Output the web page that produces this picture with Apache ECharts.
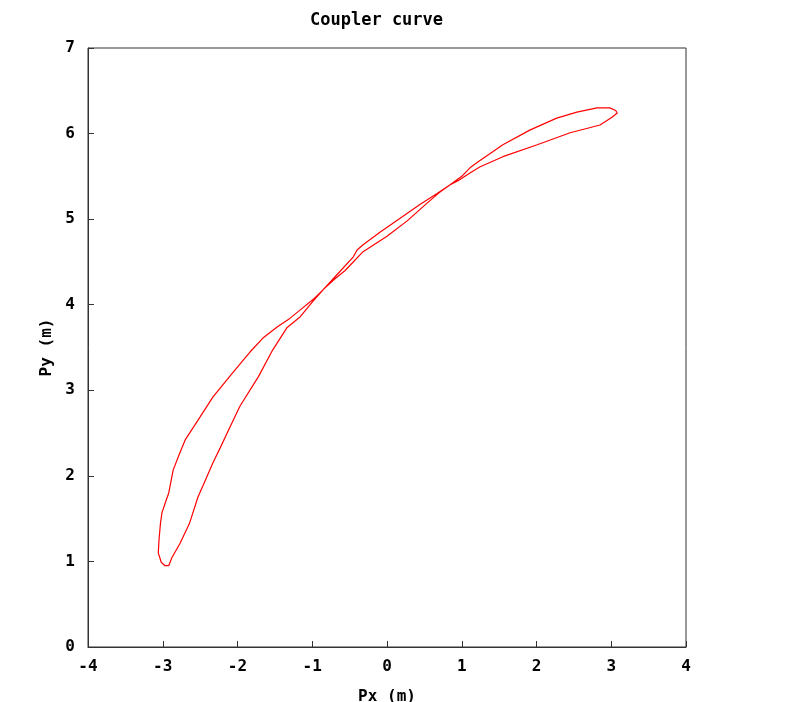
<!DOCTYPE html>
<html>
<head>
<meta charset="utf-8">
<script src="https://cdn.jsdelivr.net/npm/echarts@6/dist/echarts.min.js"></script>
<style>html,body{margin:0;padding:0;background:#fff;}#c{width:788px;height:702px;}</style>
</head>
<body>
<div id="c"></div>
<script>
var titleText = 'Coupler curve';
var xName = 'Px (m)';
var yName = 'Py (m)';
var xTicks = [-4, -3, -2, -1, 0, 1, 2, 3, 4];
var yTicks = [0, 1, 2, 3, 4, 5, 6, 7];
var pxValues = [-2.92, -2.97, -3.02, -3.06, -3.05, -3.03, -3.01, -2.96, -2.92, -2.86, -2.78, -2.70, -2.50, -2.33, -2.06, -1.83, -1.66, -1.47, -1.30, -1.16, -0.99, -0.85, -0.70, -0.56, -0.32, 0.00, 0.27, 0.54, 0.70, 0.84, 1.00, 1.11, 1.22, 1.55, 1.91, 2.27, 2.54, 2.81, 2.98, 3.06, 3.08, 3.01, 2.85, 2.45, 2.01, 1.55, 1.24, 1.11, 0.95, 0.84, 0.67, 0.44, 0.21, -0.09, -0.32, -0.40, -0.45, -0.67, -0.85, -1.00, -1.16, -1.34, -1.53, -1.72, -1.97, -2.10, -2.23, -2.33, -2.43, -2.53, -2.64, -2.77, -2.88, -2.92];
var pyValues = [0.95, 0.95, 0.99, 1.10, 1.25, 1.45, 1.57, 1.70, 1.80, 2.07, 2.25, 2.42, 2.69, 2.92, 3.21, 3.45, 3.61, 3.74, 3.84, 3.94, 4.06, 4.18, 4.30, 4.40, 4.62, 4.80, 4.98, 5.19, 5.31, 5.40, 5.50, 5.60, 5.67, 5.87, 6.04, 6.18, 6.25, 6.30, 6.30, 6.27, 6.24, 6.19, 6.10, 6.01, 5.87, 5.73, 5.61, 5.54, 5.45, 5.40, 5.30, 5.17, 5.03, 4.85, 4.70, 4.64, 4.56, 4.35, 4.18, 4.03, 3.86, 3.73, 3.47, 3.16, 2.81, 2.57, 2.33, 2.15, 1.95, 1.75, 1.45, 1.21, 1.04, 0.95];

var points = pxValues.map(function (x, i) { return [x, pyValues[i]]; });
var font = 'DejaVu Sans Mono';
var chart = echarts.init(document.getElementById('c'));
chart.setOption({
  animation: false,
  backgroundColor: '#ffffff',
  title: {
    text: titleText,
    left: 305,
    top: 7,
    textStyle: { fontFamily: font, fontWeight: 'bold', fontSize: 17, color: '#000' }
  },
  grid: {
    left: 88, right: 102, top: 48, bottom: 55,
    outerBoundsMode: 'none', containLabel: false,
    show: true, borderColor: '#333', borderWidth: 1, backgroundColor: 'transparent'
  },
  xAxis: {
    type: 'value',
    min: xTicks[0], max: xTicks[xTicks.length - 1], interval: 1,
    name: xName, nameLocation: 'middle', nameGap: 42,
    nameTextStyle: { fontFamily: font, fontWeight: 'bold', fontSize: 16, color: '#000' },
    axisLine: { show: true, onZero: false, lineStyle: { color: '#333', width: 1 } },
    axisTick: { show: true, inside: true, length: 6, lineStyle: { color: '#333' } },
    axisLabel: { margin: 12, fontFamily: font, fontWeight: 'bold', fontSize: 16, color: '#000' },
    splitLine: { show: false }
  },
  yAxis: {
    type: 'value',
    min: yTicks[0], max: yTicks[yTicks.length - 1], interval: 1,
    name: yName, nameLocation: 'middle', nameGap: 31, nameRotate: 90,
    nameTextStyle: { fontFamily: font, fontWeight: 'bold', fontSize: 16, color: '#000' },
    axisLine: { show: true, onZero: false, lineStyle: { color: '#333', width: 1 } },
    axisTick: { show: true, inside: true, length: 6, lineStyle: { color: '#333' } },
    axisLabel: { margin: 13, fontFamily: font, fontWeight: 'bold', fontSize: 16, color: '#000' },
    splitLine: { show: false }
  },
  series: [{
    type: 'line',
    data: points,
    showSymbol: false,
    smooth: false,
    lineStyle: { color: '#ff0000', width: 1.2 },
    itemStyle: { color: '#ff0000' }
  }]
});
</script>
</body>
</html>
